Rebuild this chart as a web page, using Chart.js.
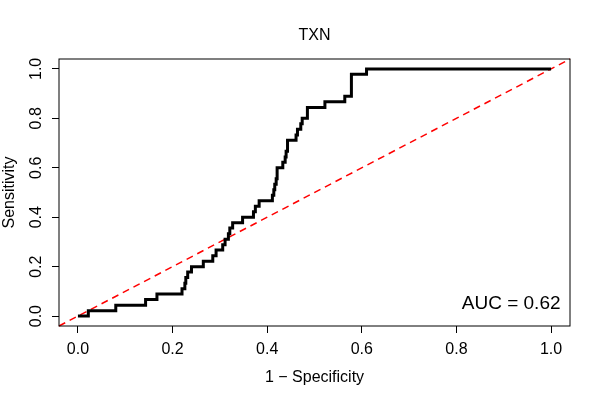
<!DOCTYPE html>
<html>
<head>
<meta charset="utf-8">
<script src="https://cdn.jsdelivr.net/npm/chart.js@4.4.1/dist/chart.umd.min.js"></script>
<style>
	html, body { margin: 0; padding: 0; background: #fff; }
	#chart-roc { display: block; }
</style>
</head>
<body>
<canvas id="chart-roc" width="600" height="400"></canvas>
<script>
// ROC curve points (1 - specificity, sensitivity)
const FPR = [0, 0.022, 0.080, 0.143, 0.167, 0.220, 0.226, 0.228, 0.232, 0.240, 0.265, 0.285, 0.292, 0.306, 0.311, 0.318, 0.321, 0.327, 0.348, 0.371, 0.375, 0.383, 0.411, 0.414, 0.416, 0.419, 0.421, 0.433, 0.438, 0.440, 0.443, 0.461, 0.464, 0.471, 0.474, 0.485, 0.522, 0.564, 0.578, 0.610, 1];
const TPR = [0, 0.022, 0.044, 0.067, 0.089, 0.111, 0.133, 0.156, 0.178, 0.200, 0.222, 0.244, 0.267, 0.289, 0.311, 0.333, 0.356, 0.378, 0.400, 0.422, 0.444, 0.467, 0.489, 0.511, 0.533, 0.556, 0.600, 0.622, 0.644, 0.667, 0.711, 0.733, 0.756, 0.778, 0.800, 0.844, 0.867, 0.889, 0.978, 1, 1];
const DIAGONAL = [-0.04, 1.04];
const TICKS = [0, 0.2, 0.4, 0.6, 0.8, 1.0];
const AXIS_RANGE = [-0.04, 1.04];
const TITLE = "TXN";
const AUC_LABEL = "AUC = 0.62";

const FONT = "'Liberation Sans', Arial, Helvetica, sans-serif";
const CHART_WRAPPER = document.getElementById("chart-roc");

// Box around the plot region, main title (centred on the plot, like R) and the AUC text
const boxPlugin = {
	id: "rBox",
	afterDraw(chart) {
		const { ctx, chartArea, scales } = chart;
		ctx.save();
		ctx.strokeStyle = "#000";
		ctx.lineWidth = 1;
		ctx.strokeRect(chartArea.left, chartArea.top, chartArea.right - chartArea.left, chartArea.bottom - chartArea.top);
		ctx.fillStyle = "#000";
		ctx.textBaseline = "middle";
		ctx.textAlign = "center";
		ctx.font = "16px " + FONT;
		ctx.fillText(TITLE, (chartArea.left + chartArea.right) / 2, 36);
		ctx.font = "19px " + FONT;
		ctx.textAlign = "right";
		ctx.fillText(AUC_LABEL, scales.x.getPixelForValue(1.02), scales.y.getPixelForValue(0.05));
		ctx.restore();
	},
};

const setTicks = (scale) => {
	scale.ticks = TICKS.map((v) => ({ value: v }));
};

const axis = (title, extra) => ({
	type: "linear",
	min: AXIS_RANGE[0],
	max: AXIS_RANGE[1],
	afterBuildTicks: setTicks,
	border: { display: false },
	grid: {
		drawOnChartArea: false,
		drawTicks: true,
		tickLength: 7,
		color: "#000",
		tickColor: "#000",
		tickWidth: 1,
	},
	ticks: {
		color: "#000",
		font: { family: FONT, size: 16 },
		callback: (v) => Number(v).toFixed(1),
		...extra.ticks,
	},
	title: {
		display: true,
		text: title,
		color: "#000",
		font: { family: FONT, size: 16 },
		padding: extra.titlePadding,
	},
	afterFit: extra.afterFit,
});

const CHART_DATA = {
	datasets: [
		{
			data: FPR.map((x, i) => ({ x, y: TPR[i] })),
			borderColor: "#000",
			borderWidth: 3,
			stepped: "before",
			pointRadius: 0,
			fill: false,
			order: 1,
		},
		{
			data: DIAGONAL.map((v) => ({ x: v, y: v })),
			borderColor: "#ff0000",
			borderWidth: 1.5,
			borderDash: [7, 5],
			pointRadius: 0,
			fill: false,
			order: 2,
		},
	],
};

const CHART_CONFIG = {
	type: "scatter",
	data: CHART_DATA,
	options: {
		responsive: false,
		animation: false,
		devicePixelRatio: 1,
		showLine: true,
		clip: false,
		layout: { padding: { left: 0, right: 30, top: 59, bottom: 0 } },
		plugins: {
			legend: { display: false },
			tooltip: { enabled: false },
			title: { display: false },
		},
		scales: {
			x: axis("1 \u2212 Specificity", {
				ticks: { padding: 7, maxRotation: 0 },
				titlePadding: { top: 0, bottom: 13 },
				afterFit: (s) => { s.height = 74; },
			}),
			y: axis("Sensitivity", {
				ticks: { padding: 4, minRotation: 90, maxRotation: 90, crossAlign: "center" },
				titlePadding: { top: 0, bottom: 0 },
				afterFit: (s) => { s.width = 59; },
			}),
		},
	},
	plugins: [boxPlugin],
};

if (CHART_WRAPPER) {
	new Chart(CHART_WRAPPER, CHART_CONFIG);
}
</script>
</body>
</html>
